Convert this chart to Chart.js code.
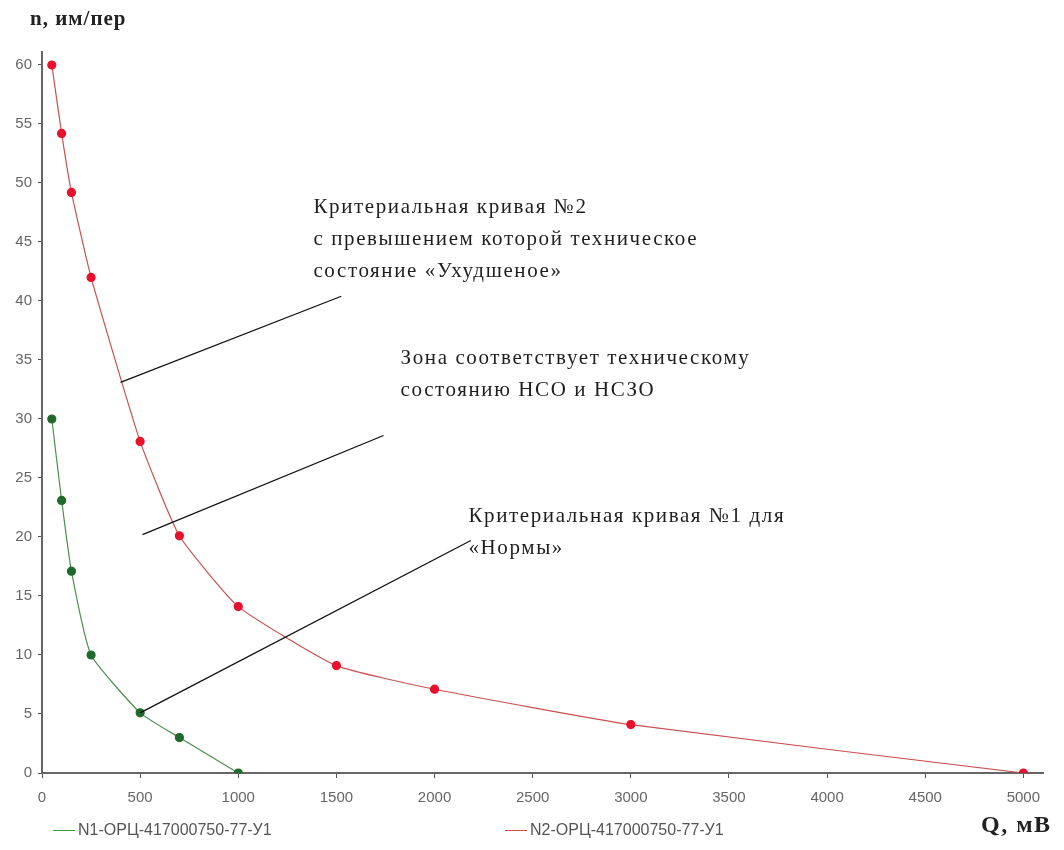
<!DOCTYPE html>
<html>
<head>
<meta charset="utf-8">
<script src="https://cdn.jsdelivr.net/npm/chart.js@4.4.1/dist/chart.umd.min.js"></script>
<style>
  html, body { margin: 0; padding: 0; background: #fff; }
  #wrap { position: relative; width: 1064px; height: 850px; }
</style>
</head>
<body>
<div id="wrap"><canvas id="c" width="1064" height="850"></canvas></div>
<script>
// Charge values Q, mV
const qValues = [50, 100, 150, 250, 500, 700, 1000];
const qValues2 = [50, 100, 150, 250, 500, 700, 1000, 1500, 2000, 3000, 5000];

// Pulses per period, n
const normCurve = [30.0, 23.1, 17.1, 10.0, 5.1, 3.0, 0];
const worseCurve = [60.0, 54.2, 49.2, 42.0, 28.1, 20.1, 14.1, 9.1, 7.1, 4.1, 0];

const seriesNames = ['N1-ОРЦ-417000750-77-У1', 'N2-ОРЦ-417000750-77-У1'];

const xTicks = [0, 500, 1000, 1500, 2000, 2500, 3000, 3500, 4000, 4500, 5000];
const yTicks = [0, 5, 10, 15, 20, 25, 30, 35, 40, 45, 50, 55, 60];

// Leader lines from the notes to the curves (Q, n)
const leader1Q = [400, 1525];
const leader1N = [33.1, 40.4];
const leader2Q = [512, 1740];
const leader2N = [20.2, 28.6];
const leader3Q = [500, 2185];
const leader3N = [5.1, 19.7];

const notes = [
  { q: 1383, n: 47.9, lines: ['Критериальная кривая №2', 'с превышением которой техническое', 'состояние «Ухудшеное»'] },
  { q: 1827, n: 35.1, lines: ['Зона соответствует техническому', 'состоянию НСО и НСЗО'] },
  { q: 2173, n: 21.7, lines: ['Критериальная кривая №1 для', '«Нормы»'] }
];

const pts = (xs, ys) => xs.map((x, i) => ({ x: x, y: ys[i] }));

const notePlugin = {
  id: 'notes',
  afterDatasetsDraw(chart) {
    const ctx = chart.ctx;
    const xs = chart.scales.x, ys = chart.scales.y;
    ctx.save();
    ctx.fillStyle = '#1e1e1e';
    ctx.font = '21px "Liberation Serif", serif';
    ctx.letterSpacing = '1.6px';
    ctx.textBaseline = 'middle';
    ctx.textAlign = 'left';
    notes.forEach(nt => {
      const px = xs.getPixelForValue(nt.q);
      const py = ys.getPixelForValue(nt.n);
      nt.lines.forEach((ln, i) => ctx.fillText(ln, px, py + i * 32));
    });
    ctx.restore();
  },
  afterDraw(chart) {
    const ctx = chart.ctx;
    ctx.save();
    // axis titles
    ctx.fillStyle = '#222';
    ctx.textBaseline = 'middle';
    ctx.textAlign = 'left';
    ctx.letterSpacing = '1px';
    ctx.font = 'bold 21px "Liberation Serif", serif';
    ctx.fillText('n, им/пер', 30, 20);
    ctx.letterSpacing = '1.5px';
    ctx.font = 'bold 24px "Liberation Serif", serif';
    ctx.fillText('Q, мВ', 981, 826);
    // legend
    ctx.letterSpacing = '0px';
    const colors = ['#3f9a3f', '#d04848'];
    const lineX = [53, 505];
    ctx.font = '16px "Liberation Sans", sans-serif';
    ctx.fillStyle = '#555';
    seriesNames.forEach((name, i) => {
      ctx.strokeStyle = colors[i];
      ctx.lineWidth = 1;
      ctx.beginPath();
      ctx.moveTo(lineX[i], 830.5);
      ctx.lineTo(lineX[i] + 22, 830.5);
      ctx.stroke();
      ctx.fillText(name, lineX[i] + 25, 831);
    });
    ctx.restore();
  }
};

const leaderStyle = { showLine: true, borderColor: '#111', borderWidth: 1.3, pointRadius: 0, order: 0 };
const tickFont = { family: '"Liberation Sans", sans-serif', size: 15 };

new Chart(document.getElementById('c'), {
  type: 'scatter',
  data: {
    datasets: [
      Object.assign({ data: pts(leader1Q, leader1N) }, leaderStyle),
      Object.assign({ data: pts(leader2Q, leader2N) }, leaderStyle),
      Object.assign({ data: pts(leader3Q, leader3N) }, leaderStyle),
      {
        label: seriesNames[0], data: pts(qValues, normCurve), showLine: true,
        borderColor: '#4e8f4e', borderWidth: 1.2, tension: 0.15,
        pointRadius: 4, pointBackgroundColor: '#1f6a2a', pointBorderColor: '#1f6a2a', order: 1
      },
      {
        label: seriesNames[1], data: pts(qValues2, worseCurve), showLine: true,
        borderColor: '#c85050', borderWidth: 1.2, tension: 0.15,
        pointRadius: 4, pointBackgroundColor: '#e8102c', pointBorderColor: '#e8102c', order: 1
      }
    ]
  },
  options: {
    responsive: false,
    animation: false,
    layout: { padding: { top: 52, right: 21, left: 0, bottom: 0 } },
    plugins: { legend: { display: false }, tooltip: { enabled: false } },
    scales: {
      x: {
        type: 'linear', min: 0, max: 5100,
        afterBuildTicks: s => { s.ticks = xTicks.map(v => ({ value: v })); },
        afterFit: s => { s.height = 77; },
        grid: { drawOnChartArea: false, drawTicks: true, tickLength: 5, color: '#555' },
        border: { color: '#666', width: 2 },
        ticks: { color: '#666', font: tickFont, padding: 11, maxRotation: 0, callback: v => String(v) }
      },
      y: {
        type: 'linear', min: 0, max: 61.1,
        afterBuildTicks: s => { s.ticks = yTicks.map(v => ({ value: v })); },
        afterFit: s => { s.width = 42; },
        grid: { drawOnChartArea: false, drawTicks: true, tickLength: 4, color: '#555' },
        border: { color: '#666', width: 2 },
        ticks: { color: '#666', font: tickFont, padding: 6, callback: v => String(v) }
      }
    }
  },
  plugins: [notePlugin]
});
</script>
</body>
</html>
